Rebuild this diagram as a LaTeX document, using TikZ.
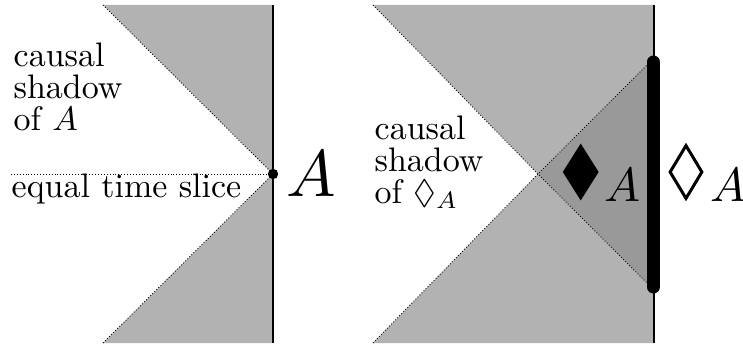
\RequirePackage{fix-cm}
\documentclass[tikz,border=0pt]{standalone}
\DeclareFontFamily{U}{msa}{}
\DeclareFontShape{U}{msa}{m}{n}{<->msam10}{}
\usepackage{amssymb}
\usetikzlibrary{shapes.geometric}
\begin{document}
\begin{tikzpicture}[x=1pt,y=-1pt,
  lightshade/.style={fill=black!30},
  darkshade/.style={fill=black!40},
  lightcone/.style={dotted, line width=0.9pt},
  boundary/.style={line width=1.3pt},
  thickbd/.style={line width=13pt, line cap=round},
  lbl/.style={inner sep=0pt, anchor=base west, align=left, scale=3.4, font=\fontsize{10}{9.3}\selectfont},
  bigA/.style={inner sep=0pt, anchor=base west, scale=6.6, font=\fontsize{10}{10}\selectfont},
  midA/.style={inner sep=0pt, anchor=base west, scale=4.8, font=\fontsize{10}{10}\selectfont},
  dia/.style={diamond, inner sep=0pt, minimum width=36pt, minimum height=57pt}
]
\useasboundingbox (0,0) rectangle (743,345);
\fill[white] (0,0) rectangle (743,345);

% ---------- left panel ----------
\coordinate (LTL) at (103,5);
\coordinate (LTR) at (273,5);
\coordinate (LA)  at (273,174);
\coordinate (LBL) at (103,343);
\coordinate (LBR) at (273,343);
\coordinate (LS)  at (11,174);

\fill[lightshade] (LTL) -- (LTR) -- (LA) -- cycle;
\fill[lightshade] (LA) -- (LBR) -- (LBL) -- cycle;
\draw[lightcone] (LTL) -- (LA);
\draw[lightcone] (LBL) -- (LA);
\draw[lightcone] (LS) -- (LA);
\draw[boundary] (LTR) -- (LBR);
\fill[black] (LA) circle (5.2pt);

\node[lbl] (shadowL) at (13,130) {causal\\shadow\\of $A$};
\node[lbl] (slice) at (11,197) {equal time slice};
\node[bigA] (Alabel) at (285,196) {$A$};

% ---------- right panel ----------
\coordinate (RTL) at (373,5);
\coordinate (RTR) at (654,5);
\coordinate (RBR) at (654,343);
\coordinate (RBL) at (373,343);
\coordinate (RP)  at (538,174);
\coordinate (RT)  at (654,58);
\coordinate (RB)  at (654,290);
\coordinate (DT)  at (653.3,62);
\coordinate (DB)  at (653.3,287);

\fill[lightshade] (RTL) -- (RTR) -- (RBR) -- (RBL) -- (RP) -- cycle;
\fill[darkshade] (RP) -- (RT) -- (RB) -- cycle;
\draw[lightcone] (RTL) -- (RP) -- (RB);
\draw[lightcone] (RBL) -- (RP) -- (RT);
\draw[boundary] (RTR) -- (RBR);
\draw[thickbd] (DT) -- (DB);

\node[lbl] (shadowR) at (374,203) {causal\\shadow\\of $\Diamond_A$};
\node[dia, fill=black] (bdia) at (580.7,172) {};
\node[midA] (A1) at (604,201) {$A$};
\node[dia, draw=black, line width=3pt, minimum width=33pt, minimum height=54pt] (wdia) at (686,172) {};
\node[midA] (A2) at (710,201) {$A$};
\end{tikzpicture}
\end{document}
